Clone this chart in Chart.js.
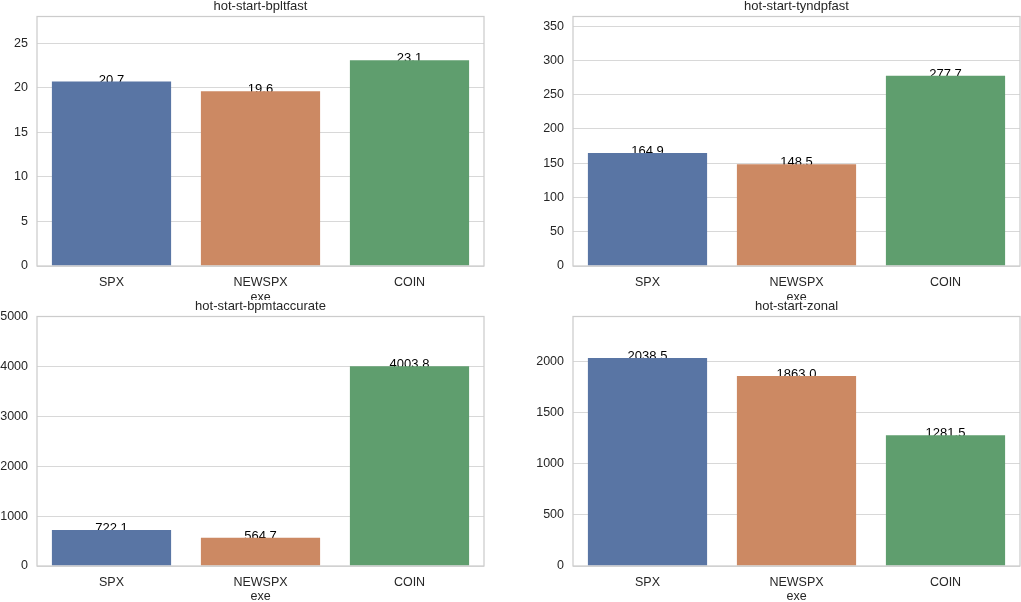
<!DOCTYPE html>
<html>
<head>
<meta charset="utf-8">
<script src="https://cdn.jsdelivr.net/npm/chart.js@4"></script>
<style>
  body { margin: 0; background: #fff; }
  #wrap { position: relative; width: 1021px; height: 602px; overflow: hidden; }
  canvas { position: absolute; }
</style>
</head>
<body>
<div id="wrap">
  <canvas id="c0" style="left:0;top:0;width:510px;height:300px"></canvas>
  <canvas id="c1" style="left:510px;top:0;width:511px;height:300px"></canvas>
  <canvas id="c2" style="left:0;top:300px;width:510px;height:302px"></canvas>
  <canvas id="c3" style="left:510px;top:300px;width:511px;height:302px"></canvas>
</div>
<script>
const categories = ["SPX", "NEWSPX", "COIN"];
const bpltfast = [20.7, 19.6, 23.1];
const tyndpfast = [164.9, 148.5, 277.7];
const bpmtaccurate = [722.1, 564.7, 4003.8];
const zonal = [2038.5, 1863.0, 1281.5];

const titles = ["hot-start-bpltfast", "hot-start-tyndpfast", "hot-start-bpmtaccurate", "hot-start-zonal"];
const yMax = [28, 364, 5000, 2446];
const ticks0 = [0, 5, 10, 15, 20, 25];
const ticks1 = [0, 50, 100, 150, 200, 250, 300, 350];
const ticks2 = [0, 1000, 2000, 3000, 4000, 5000];
const ticks3 = [0, 500, 1000, 1500, 2000];
const yTicks = [ticks0, ticks1, ticks2, ticks3];

const colors = ["#5975a4", "#cc8963", "#5f9e6e"];
const FONT = "'Liberation Sans', Arial, sans-serif";
const TEXT = "#262626";

// title, value labels (under the bars like matplotlib) and the axes frame
const decorations = {
  id: "decorations",
  beforeDatasetsDraw(chart, args, opts) {
    const { ctx, chartArea } = chart;
    const meta = chart.getDatasetMeta(0);
    ctx.save();
    ctx.font = "13px " + FONT;
    ctx.fillStyle = "#000";
    ctx.textAlign = "center";
    ctx.textBaseline = "alphabetic";
    meta.data.forEach((bar, i) => {
      const v = chart.data.datasets[0].data[i];
      ctx.fillText(v.toFixed(1), bar.x, bar.y + 2);
    });
    ctx.fillStyle = TEXT;
    ctx.textBaseline = "middle";
    ctx.fillText(opts.text, (chartArea.left + chartArea.right) / 2, chartArea.top - 10.5);
    ctx.restore();
  },
  afterDatasetsDraw(chart) {
    const { ctx, chartArea } = chart;
    ctx.save();
    ctx.strokeStyle = "#cccccc";
    ctx.lineWidth = 1.25;
    ctx.strokeRect(chartArea.left, chartArea.top, chartArea.right - chartArea.left, chartArea.bottom - chartArea.top);
    ctx.restore();
  }
};

function makeChart(id, values, k, right, bottom) {
  const el = document.getElementById(id);
  const w = parseInt(el.style.width), h = parseInt(el.style.height);
  el.width = w; el.height = h;
  const yWidth = right ? 63 : 37;
  const padRight = right ? 1 : 26;
  // "exe" sits a bit below the canvas edge in the top row
  const exePad = bottom === 34 ? -5 : -2.5;
  return new Chart(el, {
    type: "bar",
    data: {
      labels: categories,
      datasets: [{
        data: values,
        backgroundColor: colors,
        borderWidth: 0,
        barPercentage: 0.8,
        categoryPercentage: 1.0
      }]
    },
    plugins: [decorations],
    options: {
      responsive: false,
      animation: false,
      devicePixelRatio: 1,
      layout: { padding: { top: 16, right: padRight, left: 0, bottom: 0 } },
      plugins: {
        legend: { display: false },
        tooltip: { enabled: false },
        decorations: { text: titles[k] }
      },
      scales: {
        x: {
          grid: { display: false, drawTicks: false },
          border: { display: false },
          ticks: { color: TEXT, font: { family: FONT, size: 12.5 }, padding: 9 },
          title: { display: true, text: "exe", color: TEXT, font: { family: FONT, size: 12.5 }, padding: { top: 0, bottom: exePad } },
          afterFit(s) { s.height = bottom; }
        },
        y: {
          min: 0,
          max: yMax[k],
          grid: { color: "#d8d8d8", lineWidth: 1, drawTicks: false },
          border: { display: false },
          ticks: {
            color: TEXT,
            font: { family: FONT, size: 12.5 },
            padding: 9,
            callback: v => String(v)
          },
          afterBuildTicks(s) { s.ticks = yTicks[k].map(v => ({ value: v })); },
          afterFit(s) { s.width = yWidth; }
        }
      }
    }
  });
}

makeChart("c0", bpltfast, 0, false, 34);
makeChart("c1", tyndpfast, 1, true, 34);
makeChart("c2", bpmtaccurate, 2, false, 36);
makeChart("c3", zonal, 3, true, 36);
</script>
</body>
</html>
